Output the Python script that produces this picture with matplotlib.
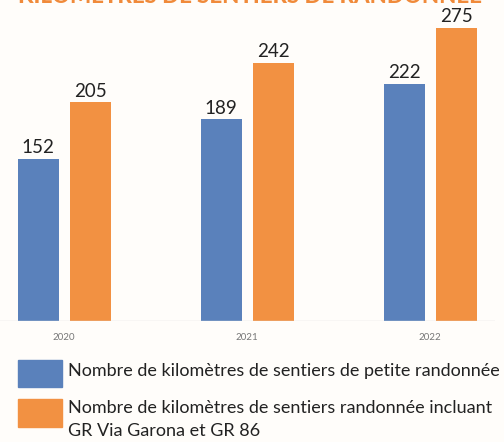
import matplotlib
matplotlib.use("Agg")
import matplotlib.pyplot as plt
from matplotlib.patches import Rectangle
import numpy as np

plt.rcParams["font.family"] = ["Lato", "DejaVu Sans"]

# data
years = ["2020", "2021", "2022"]
petite = [152, 189, 222]
incl_gr = [205, 242, 275]
series_names = [
    "Nombre de kilomètres de sentiers de petite randonnée",
    "Nombre de kilomètres de sentiers randonnée incluant\nGR Via Garona et GR 86",
]
title = "KILOMÈTRES DE SENTIERS DE RANDONNÉE"

BLUE = "#5a81bb"
ORANGE = "#f29142"
BG = "#fffdfa"

fig = plt.figure(figsize=(5.04, 4.42), dpi=100, facecolor=BG)
ax = fig.add_axes([0, (442 - 321) / 442, 495 / 504, 321 / 442])
ax.set_facecolor(BG)

x = np.arange(len(years))
w, off = 0.224, 0.142
b1 = ax.bar(x - off, petite, w, color=BLUE)
b2 = ax.bar(x + off, incl_gr, w, color=ORANGE)
for bars, vals in ((b1, petite), (b2, incl_gr)):
    for r, v in zip(bars, vals):
        ax.annotate(str(v), (r.get_x() + r.get_width() / 2, v), xytext=(0, 2),
                    textcoords="offset points", ha="center", va="bottom",
                    fontsize=13.5, color="#222222")

ax.set_xlim(-0.35, 2.355)
ax.set_ylim(0, 301)
ax.axhline(0, color="#dddddd", lw=1)
for s in ax.spines.values():
    s.set_visible(False)
ax.set_yticks([])
ax.set_xticks(x)
ax.set_xticklabels(years, fontsize=7, color="#777777")
ax.tick_params(axis="x", length=0, pad=9)

# title, cut off by the top edge as in the original
fig.text(18 / 504, 1 - 3 / 442, title, fontsize=16, fontweight="black",
         color="#f08a3a", ha="left", va="baseline")

# legend drawn by hand
for i, (col, y0, y1) in enumerate(((BLUE, 360, 387), (ORANGE, 399, 427))):
    fig.patches.append(Rectangle((18 / 504, 1 - y1 / 442), 44 / 504, (y1 - y0) / 442,
                                 transform=fig.transFigure, color=col))
fig.text(68 / 504, 1 - 371 / 442, series_names[0], fontsize=13, color="#222222",
         va="center", ha="left")
fig.text(68 / 504, 1 - 400 / 442, series_names[1], fontsize=13, color="#222222",
         va="top", ha="left", linespacing=1.55)

fig.savefig("out.png", dpi=100, facecolor=BG)
